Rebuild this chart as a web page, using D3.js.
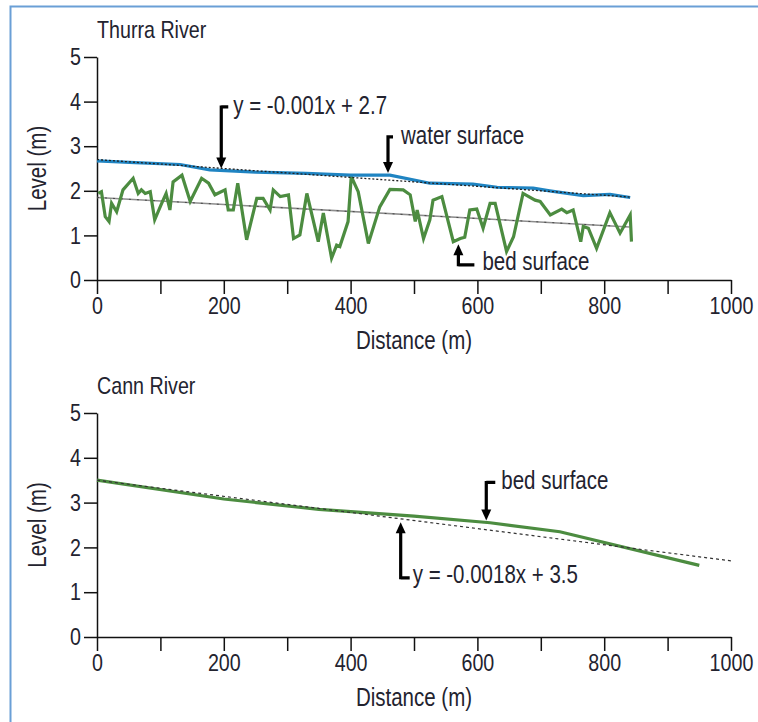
<!DOCTYPE html>
<html>
<head>
<meta charset="utf-8">
<script src="https://cdn.jsdelivr.net/npm/d3@7"></script>
<style>
  body { margin: 0; background: #fff; }
  svg text { font-family: "Liberation Sans", Arial, sans-serif; fill: #23232f; }
  .axis path, .axis line { stroke: #111; stroke-width: 1.5; }
  .axis text { font-size: 24px; }
</style>
</head>
<body>
<div id="chart"></div>
<script>
// tick values shared by both panels
var xTicks = [0, 100, 200, 300, 400, 500, 600, 700, 800, 900, 1000];
var yTicks = [0, 1, 2, 3, 4, 5];

// Thurra River - water surface (distance m, level m)
var thurraWater = [
  [0, 2.67], [60, 2.63], [131, 2.59], [178, 2.47], [250, 2.42], [330, 2.39], [399, 2.35],
  [462, 2.35], [525, 2.17], [593, 2.15], [631, 2.08], [688, 2.06], [714, 2.0],
  [767, 1.89], [809, 1.92], [841, 1.85]
];
// Thurra River - bed surface
var thurraBed = [
  [2, 1.94], [7, 1.98], [13, 1.42], [19, 1.31], [23, 1.72], [31, 1.53], [41, 2.02],
  [57, 2.28], [65, 1.94], [70, 2.02], [76, 1.94], [84, 1.98], [91, 1.35], [102, 1.72],
  [109, 1.94], [115, 1.57], [120, 2.2], [134, 2.35], [147, 1.76], [165, 2.28],
  [176, 2.17], [186, 1.91], [202, 2.02], [207, 1.57], [215, 1.57], [222, 2.17],
  [236, 0.9], [252, 1.83], [262, 1.83], [273, 1.57], [278, 2.02], [289, 1.87],
  [302, 1.91], [310, 0.93], [320, 1.01], [331, 1.94], [349, 0.86], [357, 1.5],
  [370, 0.49], [378, 0.78], [383, 0.75], [396, 1.31], [401, 2.32], [412, 1.98],
  [428, 0.82], [446, 1.64], [462, 2.03], [483, 2.02], [494, 1.91], [502, 1.31],
  [505, 1.57], [515, 0.93], [525, 1.35], [530, 1.79], [544, 1.87], [562, 0.86],
  [573, 0.93], [580, 0.96], [588, 1.57], [599, 1.59], [609, 1.16], [620, 1.72],
  [628, 1.72], [646, 0.64], [657, 0.97], [672, 1.94], [691, 1.79], [699, 1.76],
  [715, 1.46], [733, 1.59], [741, 1.51], [751, 1.57], [763, 0.86], [767, 1.2],
  [775, 1.16], [788, 0.71], [809, 1.51], [825, 1.05], [841, 1.46], [843, 0.86]
];
// trend lines (end points)
var thurraWaterTrend = [[0, 2.7], [840, 1.86]];
var thurraBedTrend = [[0, 1.85], [840, 1.19]];

// Cann River - bed surface
var cannBed = [
  [0, 3.5], [200, 3.08], [350, 2.85], [500, 2.7], [620, 2.55], [730, 2.35], [950, 1.6]
];
var cannTrend = [[0, 3.5], [1000, 1.7]];

var W = 758, H = 722;
var NARROW = 0.82;   // the original face is a condensed one

var svg = d3.select("#chart").append("svg")
  .attr("width", W)
  .attr("height", H);

// squeeze text horizontally around its own anchor point
function squeeze(sel) {
  sel.each(function() {
    var t = d3.select(this);
    var tx = +t.attr("x") || 0, ty = +t.attr("y") || 0;
    var prev = t.attr("transform") || "";
    t.attr("x", 0).attr("y", 0)
      .attr("transform", prev + " translate(" + tx + "," + ty + ") scale(" + NARROW + ",1)");
  });
}

// frame
svg.append("path")
  .attr("d", "M10.5," + H + "V6.5H" + W)
  .attr("fill", "none")
  .attr("stroke", "#6a9fd6")
  .attr("stroke-width", 2);

var x = d3.scaleLinear().domain([0, 1000]).range([97, 731]);

var line = d3.line()
  .x(function(d) { return x(d[0]); });

function arrow(g, y, a) {
  var px = x(a.d), y1 = y(a.from), y2 = y(a.to);
  var dir = y2 > y1 ? 1 : -1;
  g.append("path")
    .attr("d", "M" + px + "," + y1 + "H" + (px + a.bar) + "M" + px + "," + (y1 - dir * 1.5) + "V" + (y2 - dir * 9))
    .attr("fill", "none")
    .attr("stroke", "#000")
    .attr("stroke-width", 3.2);
  g.append("path")
    .attr("d", "M" + (px - 5) + "," + (y2 - dir * 11) + "L" + (px + 5) + "," + (y2 - dir * 11) + "L" + px + "," + y2 + "Z")
    .attr("fill", "#000");
  g.append("text")
    .attr("x", px + a.tx)
    .attr("y", y1 + a.ty)
    .style("font-size", "25px")
    .text(a.label)
    .call(squeeze);
}

function panel(o) {
  var y = d3.scaleLinear().domain([0, 5]).range([o.bottom, o.top]);
  var g = svg.append("g");

  g.append("text")
    .attr("x", 97)
    .attr("y", o.top - 19)
    .style("font-size", "24px")
    .text(o.title)
    .call(squeeze);

  var xa = g.append("g")
    .attr("class", "axis")
    .attr("transform", "translate(0," + o.bottom + ")")
    .call(d3.axisBottom(x).tickValues(xTicks).tickSize(14).tickSizeOuter(0).tickPadding(3)
      .tickFormat(function(d) { return d % 200 === 0 ? d : ""; }));
  xa.selectAll("text").call(squeeze);

  var ya = g.append("g")
    .attr("class", "axis")
    .attr("transform", "translate(97,0)")
    .call(d3.axisLeft(y).tickValues(yTicks).tickSize(13).tickSizeOuter(0).tickPadding(3)
      .tickFormat(d3.format("d")));
  ya.selectAll("text").call(squeeze);

  g.append("text")
    .attr("text-anchor", "middle")
    .attr("transform", "translate(46," + (o.top + o.bottom) / 2 + ") rotate(-90) scale(" + NARROW + ",1)")
    .style("font-size", "25px")
    .text("Level (m)");

  g.append("text")
    .attr("text-anchor", "middle")
    .attr("x", (x(0) + x(1000)) / 2)
    .attr("y", o.bottom + 69)
    .style("font-size", "25px")
    .text("Distance (m)")
    .call(squeeze);

  line.y(function(d) { return y(d[1]); });
  o.draw(g, y);
  o.notes.forEach(function(a) { arrow(g, y, a); });
}

panel({
  title: "Thurra River", top: 57, bottom: 280,
  draw: function(g, y) {
    g.append("path").datum(thurraBedTrend).attr("d", line)
      .attr("fill", "none").attr("stroke", "#8c8c8c").attr("stroke-width", 1.6);
    g.append("path").datum(thurraBedTrend).attr("d", line)
      .attr("fill", "none").attr("stroke", "#333").attr("stroke-width", 0.8)
      .attr("stroke-dasharray", "2,6");
    g.append("path").datum(thurraBed).attr("d", line)
      .attr("fill", "none").attr("stroke", "#4c8c40").attr("stroke-width", 3.2);
    g.append("path").datum(thurraWater).attr("d", line)
      .attr("fill", "none").attr("stroke", "#1f84c2").attr("stroke-width", 3.2);
    g.append("path").datum(thurraWaterTrend).attr("d", line)
      .attr("fill", "none").attr("stroke", "#222").attr("stroke-width", 1.3)
      .attr("stroke-dasharray", "2,2");
  },
  notes: [
    {d: 196, from: 3.88, to: 2.5, bar: 7, tx: 12, ty: 7, label: "y = -0.001x + 2.7"},
    {d: 459, from: 3.21, to: 2.4, bar: 5, tx: 13, ty: 7, label: "water surface"},
    {d: 570, from: 0.34, to: 0.8, bar: 16, tx: 24, ty: 5, label: "bed surface"}
  ]
});

panel({
  title: "Cann River", top: 413, bottom: 637,
  draw: function(g, y) {
    g.append("path").datum(cannBed).attr("d", line)
      .attr("fill", "none").attr("stroke", "#4c8c40").attr("stroke-width", 3.2);
    g.append("path").datum(cannTrend).attr("d", line)
      .attr("fill", "none").attr("stroke", "#333").attr("stroke-width", 1.2)
      .attr("stroke-dasharray", "3,3");
  },
  notes: [
    {d: 614, from: 3.45, to: 2.6, bar: 9, tx: 15, ty: 7, label: "bed surface"},
    {d: 479, from: 1.32, to: 2.56, bar: 9, tx: 12, ty: 5, label: "y = -0.0018x + 3.5"}
  ]
});
</script>
</body>
</html>
